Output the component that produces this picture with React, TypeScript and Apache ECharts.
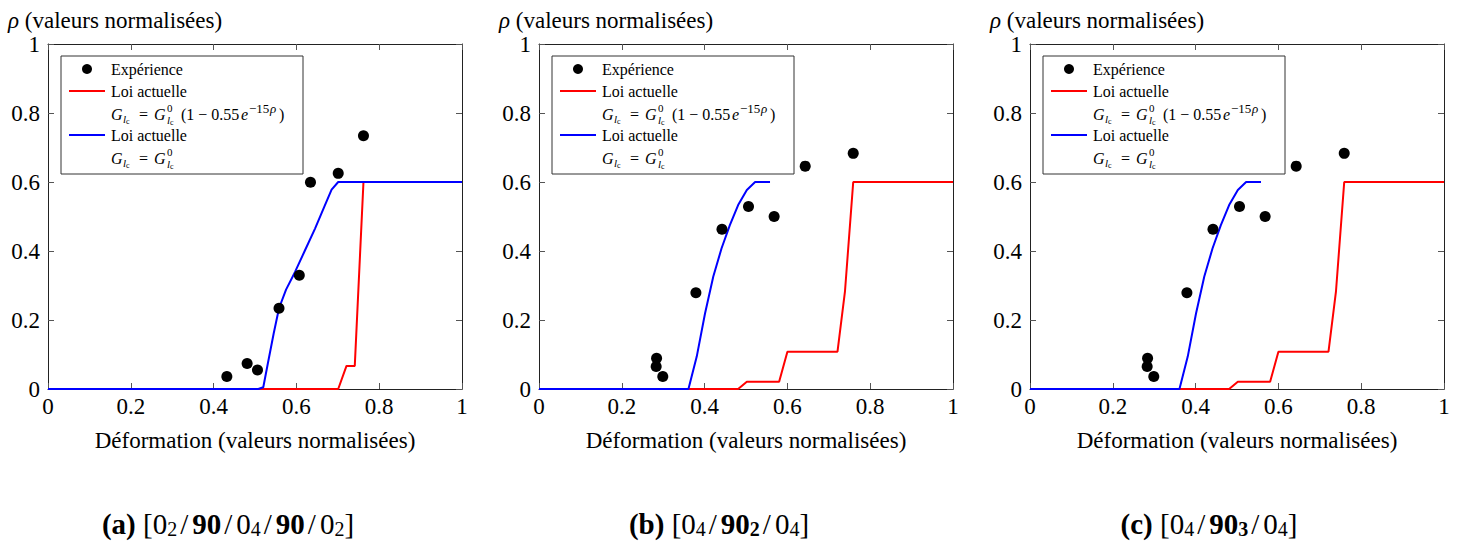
import React, { useEffect, useRef } from "react";
import * as echarts from "echarts";

// ---------- DATA ----------
const xTicks = [0, 0.2, 0.4, 0.6, 0.8, 1];
const yTicks = [0, 0.2, 0.4, 0.6, 0.8, 1];

// Panel (a) [0_2/90/0_4/90/0_2]
const expA = [
  [0.432, 0.036], [0.481, 0.074], [0.506, 0.055], [0.558, 0.234],
  [0.607, 0.33], [0.634, 0.599], [0.701, 0.625], [0.762, 0.734],
];
const redA = [
  [0, 0], [0.701, 0], [0.721, 0.067], [0.741, 0.067], [0.762, 0.6], [1, 0.6],
];
const blueA = [
  [0, 0], [0.508, 0], [0.52, 0.005], [0.531, 0.074], [0.545, 0.16],
  [0.558, 0.234], [0.575, 0.288], [0.597, 0.34], [0.62, 0.4],
  [0.645, 0.465], [0.668, 0.53], [0.685, 0.578], [0.701, 0.6], [1, 0.6],
];

// Panel (b) [0_4/90_2/0_4]
const expB = [
  [0.284, 0.089], [0.283, 0.065], [0.299, 0.036], [0.379, 0.279],
  [0.442, 0.463], [0.506, 0.529], [0.568, 0.5], [0.643, 0.646], [0.759, 0.683],
];
const redB = [
  [0, 0], [0.481, 0], [0.502, 0.021], [0.58, 0.021], [0.6, 0.108],
  [0.721, 0.108], [0.739, 0.282], [0.759, 0.6], [1, 0.6],
];
const blueB = [
  [0, 0], [0.361, 0], [0.381, 0.094], [0.401, 0.219], [0.421, 0.326],
  [0.441, 0.408], [0.461, 0.475], [0.481, 0.533], [0.502, 0.577],
  [0.522, 0.6], [0.558, 0.6],
];

// Panel (c) [0_4/90_3/0_4]
const expC = [
  [0.284, 0.089], [0.283, 0.065], [0.299, 0.036], [0.379, 0.279],
  [0.442, 0.463], [0.506, 0.529], [0.568, 0.5], [0.643, 0.646], [0.759, 0.683],
];
const redC = [
  [0, 0], [0.481, 0], [0.502, 0.021], [0.58, 0.021], [0.6, 0.108],
  [0.721, 0.108], [0.739, 0.282], [0.759, 0.6], [1, 0.6],
];
const blueC = [
  [0, 0], [0.361, 0], [0.381, 0.094], [0.401, 0.219], [0.421, 0.326],
  [0.441, 0.408], [0.461, 0.475], [0.481, 0.533], [0.502, 0.577],
  [0.522, 0.6], [0.558, 0.6],
];

const expSeries = [expA, expB, expC];
const redSeries = [redA, redB, redC];
const blueSeries = [blueA, blueB, blueC];

const legendExp = "Expérience";
const legendLaw = "Loi actuelle";
const xName = "Déformation (valeurs normalisées)";
const yName = "(valeurs normalisées)";

// ---------- LAYOUT ----------
const FONT = "'Liberation Serif', 'Times New Roman', serif";
const gridLefts = [48, 539, 1030];
const gridTop = 44;
const gridW = 414;
const gridH = 345;
const captionCenters = [228, 719, 1209];

function fmt(v: number) {
  return String(+Number(v).toFixed(1));
}

function txt(x: number, y: number, text: string, size: number, italic = false) {
  return {
    type: "text",
    x,
    y,
    z: 110,
    style: {
      text,
      fontSize: size,
      fontFamily: FONT,
      fontStyle: italic ? "italic" : "normal",
      fill: "#000",
      align: "left",
      verticalAlign: "middle",
    },
  };
}

// stacked super/subscript: ^0 over _{l_c}
function stacked(x: number, y: number) {
  return {
    type: "text",
    x,
    y,
    z: 110,
    style: {
      text: "{sp|0}\n{sb|l}{ss|c}",
      fontFamily: FONT,
      fontSize: 11,
      fill: "#000",
      align: "left",
      verticalAlign: "middle",
      rich: {
        sp: { fontFamily: FONT, fontSize: 11, lineHeight: 12, fill: "#000" },
        sb: { fontFamily: FONT, fontSize: 11, fontStyle: "italic", lineHeight: 12, fill: "#000" },
        ss: { fontFamily: FONT, fontSize: 8, lineHeight: 12, verticalAlign: "bottom", fill: "#000" },
      },
    },
  };
}

function subLc(x: number, y: number) {
  return {
    type: "text",
    x,
    y,
    z: 110,
    style: {
      text: "{sb|l}{ss|c}",
      fontFamily: FONT,
      fontSize: 11,
      fill: "#000",
      align: "left",
      verticalAlign: "middle",
      rich: {
        sb: { fontFamily: FONT, fontSize: 11, fontStyle: "italic", lineHeight: 12, fill: "#000" },
        ss: { fontFamily: FONT, fontSize: 8, lineHeight: 12, verticalAlign: "bottom", fill: "#000" },
      },
    },
  };
}

function formula(x0: number, y0: number, full: boolean) {
  const p: any[] = [
    txt(x0, y0, "G", 16, true),
    subLc(x0 + 12, y0 + 5),
    txt(x0 + 28, y0, "=", 16),
    txt(x0 + 43, y0, "G", 16, true),
    stacked(x0 + 56, y0),
  ];
  if (full) {
    p.push(
      txt(x0 + 70, y0, "(1 − 0.55", 16),
      txt(x0 + 130, y0, "e", 16, true),
      txt(x0 + 138, y0 - 6, "−15", 13),
      txt(x0 + 159, y0 - 6, "ρ", 13, true),
      txt(x0 + 168, y0, ")", 16)
    );
  }
  return p;
}

function legendFor(i: number) {
  const ox = gridLefts[i] - gridLefts[0];
  const els: any[] = [
    {
      type: "rect",
      z: 100,
      shape: { x: 61 + ox, y: 56, width: 242, height: 118 },
      style: { fill: "#fff", stroke: "#333", lineWidth: 1 },
    },
    {
      type: "circle",
      z: 110,
      shape: { cx: 87 + ox, cy: 69, r: 5 },
      style: { fill: "#000" },
    },
    txt(111 + ox, 69, legendExp, 16),
    {
      type: "line",
      z: 110,
      shape: { x1: 69 + ox, y1: 91, x2: 105 + ox, y2: 91 },
      style: { stroke: "#ff0000", lineWidth: 2 },
    },
    txt(111 + ox, 91, legendLaw, 16),
    ...formula(111 + ox, 114, true),
    {
      type: "line",
      z: 110,
      shape: { x1: 69 + ox, y1: 135, x2: 105 + ox, y2: 135 },
      style: { stroke: "#0000ff", lineWidth: 2 },
    },
    txt(111 + ox, 135, legendLaw, 16),
    ...formula(111 + ox, 158, false),
  ];
  return els;
}

function captionText(i: number) {
  if (i === 0) return "{b|(a)}{n| [0}{s|2}{sl|/}{b|90}{sl|/}{n|0}{s|4}{sl|/}{b|90}{sl|/}{n|0}{s|2}{n|]}";
  if (i === 1) return "{b|(b)}{n| [0}{s|4}{sl|/}{b|90}{bs|2}{sl|/}{n|0}{s|4}{n|]}";
  return "{b|(c)}{n| [0}{s|4}{sl|/}{b|90}{bs|3}{sl|/}{n|0}{s|4}{n|]}";
}

export default function App() {
  const ref = useRef<HTMLDivElement>(null);
  useEffect(() => {
    if (!ref.current) return;
    const chart = echarts.init(ref.current, undefined, { renderer: "svg" });

    const grids: any[] = [];
    const xAxes: any[] = [];
    const yAxes: any[] = [];
    const series: any[] = [];
    const graphics: any[] = [];

    const tickStyle = { color: "#555", width: 1 };
    const lineStyle = { color: "#222", width: 1 };
    const labelStyle = { fontFamily: FONT, fontSize: 23, color: "#000" };

    for (let i = 0; i < 3; i++) {
      grids.push({ left: gridLefts[i], top: gridTop, width: gridW, height: gridH });
      const baseX = {
        type: "value",
        gridIndex: i,
        min: xTicks[0],
        max: xTicks[xTicks.length - 1],
        interval: 0.2,
        splitLine: { show: false },
        axisLine: { show: true, onZero: false, lineStyle },
        axisTick: { show: true, inside: true, length: 6, lineStyle: tickStyle },
      };
      xAxes.push({
        ...baseX,
        position: "bottom",
        name: xName,
        nameLocation: "middle",
        nameGap: 40,
        nameTextStyle: { ...labelStyle },
        axisLabel: { show: true, margin: 6, ...labelStyle, formatter: fmt },
      });
      xAxes.push({ ...baseX, position: "top", axisLabel: { show: false } });
      const baseY = {
        type: "value",
        gridIndex: i,
        min: yTicks[0],
        max: yTicks[yTicks.length - 1],
        interval: 0.2,
        splitLine: { show: false },
        axisLine: { show: true, onZero: false, lineStyle },
        axisTick: { show: true, inside: true, length: 6, lineStyle: tickStyle },
      };
      yAxes.push({
        ...baseY,
        position: "left",
        axisLabel: { show: true, margin: 8, ...labelStyle, formatter: fmt },
      });
      yAxes.push({ ...baseY, position: "right", axisLabel: { show: false } });

      series.push({
        type: "line",
        name: legendLaw + " (rouge)",
        xAxisIndex: 2 * i,
        yAxisIndex: 2 * i,
        data: redSeries[i],
        showSymbol: false,
        clip: false,
        lineStyle: { color: "#ff0000", width: 2 },
        itemStyle: { color: "#ff0000" },
        z: 3,
      });
      series.push({
        type: "line",
        name: legendLaw + " (bleu)",
        xAxisIndex: 2 * i,
        yAxisIndex: 2 * i,
        data: blueSeries[i],
        showSymbol: false,
        clip: false,
        lineStyle: { color: "#0000ff", width: 2 },
        itemStyle: { color: "#0000ff" },
        z: 4,
      });
      series.push({
        type: "scatter",
        name: legendExp,
        xAxisIndex: 2 * i,
        yAxisIndex: 2 * i,
        data: expSeries[i],
        symbol: "circle",
        symbolSize: 11,
        itemStyle: { color: "#000", opacity: 1 },
        z: 5,
      });

      graphics.push({
        type: "text",
        x: gridLefts[i] - 40,
        y: 20,
        z: 110,
        style: {
          text: "{i|ρ}{n| " + yName + "}",
          fontSize: 23,
          fontFamily: FONT,
          fill: "#000",
          align: "left",
          verticalAlign: "middle",
          rich: {
            i: { fontSize: 23, fontFamily: FONT, fontStyle: "italic", fill: "#000" },
            n: { fontSize: 23, fontFamily: FONT, fill: "#000" },
          },
        },
      });
      graphics.push(...legendFor(i));
      graphics.push({
        type: "text",
        x: captionCenters[i],
        y: 524,
        z: 110,
        style: {
          text: captionText(i),
          fontFamily: FONT,
          fontSize: 29,
          fill: "#000",
          align: "center",
          verticalAlign: "middle",
          rich: {
            n: { fontFamily: FONT, fontSize: 29, lineHeight: 30, verticalAlign: "middle", fill: "#000" },
            sl: { fontFamily: FONT, fontSize: 29, lineHeight: 30, verticalAlign: "middle", padding: [0, 4, 0, 3], fill: "#000" },
            b: { fontFamily: FONT, fontSize: 29, fontWeight: "bold", lineHeight: 30, verticalAlign: "middle", fill: "#000" },
            s: { fontFamily: FONT, fontSize: 20, lineHeight: 16, verticalAlign: "bottom", fill: "#000" },
            bs: { fontFamily: FONT, fontSize: 20, fontWeight: "bold", lineHeight: 16, verticalAlign: "bottom", fill: "#000" },
          },
        },
      });
    }

    chart.setOption({
      animation: false,
      backgroundColor: "#fff",
      textStyle: { fontFamily: FONT },
      grid: grids,
      xAxis: xAxes,
      yAxis: yAxes,
      series,
      graphic: { elements: graphics },
    });
    return () => chart.dispose();
  }, []);
  return (
    <div
      ref={ref}
      style={{ position: "fixed", left: 0, top: 0, width: 1464, height: 544 }}
    />
  );
}
